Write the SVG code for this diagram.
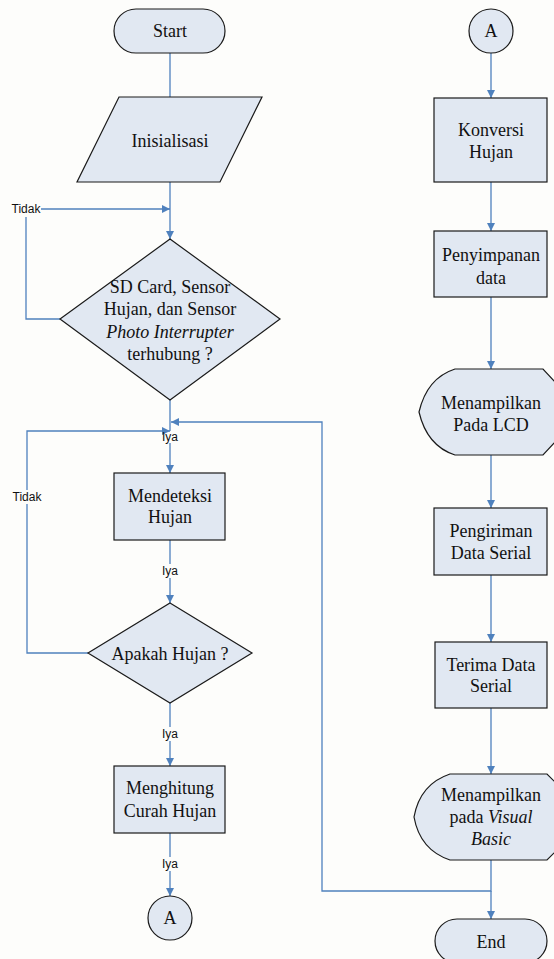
<svg xmlns="http://www.w3.org/2000/svg" width="554" height="959" viewBox="0 0 554 959">
<defs>
<style>
.s{fill:#e1e8f2;stroke:#1a1a1a;stroke-width:1.2}
.t{font-family:"Liberation Serif","Times New Roman",serif;font-size:18px;fill:#111;text-anchor:middle}
.d{font-size:18px}
.l{font-family:"Liberation Sans",Arial,sans-serif;font-size:12px;fill:#111;text-anchor:middle}
.c{fill:none;stroke:#4f81bd;stroke-width:1.3}
</style>
<marker id="ah" viewBox="0 0 10 10" refX="10" refY="5" markerWidth="8" markerHeight="8" markerUnits="userSpaceOnUse" orient="auto">
<path d="M0,0 L10,5 L0,10 z" fill="#4f81bd"/>
</marker>
</defs>
<rect width="554" height="959" fill="#fdfdfb"/>
<g id="connectors">
<path class="c" d="M170,53 V97"/>
<path class="c" d="M170,182 V239" marker-end="url(#ah)"/>
<path class="c" d="M60,319 H26 V217"/>
<path class="c" d="M41,209 H170" marker-end="url(#ah)"/>
<path class="c" d="M170,400 V431"/>
<path class="c" d="M170,443 V473" marker-end="url(#ah)"/>
<path class="c" d="M88,653 H27 V504"/>
<path class="c" d="M27,490 V431 H170" marker-end="url(#ah)"/>
<path class="c" d="M491,860 V891 H322 V422 H171" marker-end="url(#ah)"/>
<path class="c" d="M170,540 V564"/>
<path class="c" d="M170,578 V603" marker-end="url(#ah)"/>
<path class="c" d="M170,703 V727"/>
<path class="c" d="M170,741 V766" marker-end="url(#ah)"/>
<path class="c" d="M170,833 V857"/>
<path class="c" d="M170,871 V896" marker-end="url(#ah)"/>
<path class="c" d="M491,53 V98" marker-end="url(#ah)"/>
<path class="c" d="M491,182 V231" marker-end="url(#ah)"/>
<path class="c" d="M491,297 V369" marker-end="url(#ah)"/>
<path class="c" d="M491,455 V508" marker-end="url(#ah)"/>
<path class="c" d="M491,575 V642" marker-end="url(#ah)"/>
<path class="c" d="M491,708 V774" marker-end="url(#ah)"/>
<path class="c" d="M491,891 V919" marker-end="url(#ah)"/>
<text class="l" x="26" y="213">Tidak</text>
<text class="l" x="27" y="501">Tidak</text>
<text class="l" x="170" y="441">Iya</text>
<text class="l" x="170" y="575">Iya</text>
<text class="l" x="170" y="738">Iya</text>
<text class="l" x="170" y="868">Iya</text>
</g>
<g id="start">
<rect class="s" x="114" y="9" width="111" height="44" rx="22"/>
<text class="t" x="170" y="37">Start</text>
</g>
<g id="inisialisasi">
<polygon class="s" points="119,97 262,97 220,182 77,182"/>
<text class="t" x="170" y="147">Inisialisasi</text>
</g>
<g id="cek-terhubung">
<polygon class="s" points="170,239 280,319 170,400 60,319"/>
<text class="t d" x="170" y="293">SD Card, Sensor</text>
<text class="t d" x="170" y="315">Hujan, dan Sensor</text>
<text class="t d" x="170" y="338" font-style="italic">Photo Interrupter</text>
<text class="t d" x="170" y="360">terhubung ?</text>
</g>
<g id="mendeteksi">
<rect class="s" x="114" y="473" width="111" height="67"/>
<text class="t" x="170" y="502">Mendeteksi</text>
<text class="t" x="170" y="523">Hujan</text>
</g>
<g id="apakah-hujan">
<polygon class="s" points="170,603 252,653 170,703 88,653"/>
<text class="t" x="170" y="660">Apakah Hujan ?</text>
</g>
<g id="menghitung">
<rect class="s" x="114" y="766" width="111" height="67"/>
<text class="t" x="170" y="794">Menghitung</text>
<text class="t" x="170" y="817">Curah Hujan</text>
</g>
<g id="konektor-a1">
<circle class="s" cx="170" cy="918" r="22"/>
<text class="t" x="170" y="924">A</text>
</g>
<g id="konektor-a2">
<circle class="s" cx="491" cy="31" r="22"/>
<text class="t" x="491" y="37">A</text>
</g>
<g id="konversi">
<rect class="s" x="434" y="98" width="113" height="84"/>
<text class="t" x="491" y="136">Konversi</text>
<text class="t" x="491" y="158">Hujan</text>
</g>
<g id="penyimpanan">
<rect class="s" x="434" y="231" width="113" height="66"/>
<text class="t" x="491" y="261">Penyimpanan</text>
<text class="t" x="491" y="284">data</text>
</g>
<g id="tampil-lcd">
<path class="s" d="M543,369 H455 Q427,378 419,412 Q427,446 455,455 H543 L556,441 V383 Z"/>
<text class="t" x="491" y="409">Menampilkan</text>
<text class="t" x="491" y="431">Pada LCD</text>
</g>
<g id="pengiriman">
<rect class="s" x="434" y="508" width="113" height="67"/>
<text class="t" x="491" y="537">Pengiriman</text>
<text class="t" x="491" y="559">Data Serial</text>
</g>
<g id="terima">
<rect class="s" x="435" y="642" width="112" height="66"/>
<text class="t" x="491" y="671">Terima Data</text>
<text class="t" x="491" y="692">Serial</text>
</g>
<g id="tampil-vb">
<path class="s" d="M547,774 H450 Q420,784 414,817 Q420,850 450,860 H547 L556,851 V783 Z"/>
<text class="t" x="491" y="801">Menampilkan</text>
<text class="t" x="491" y="823">pada <tspan font-style="italic">Visual</tspan></text>
<text class="t" x="491" y="845" font-style="italic">Basic</text>
</g>
<g id="end">
<rect class="s" x="435" y="919" width="112" height="44" rx="22"/>
<text class="t" x="491" y="948">End</text>
</g>
</svg>
